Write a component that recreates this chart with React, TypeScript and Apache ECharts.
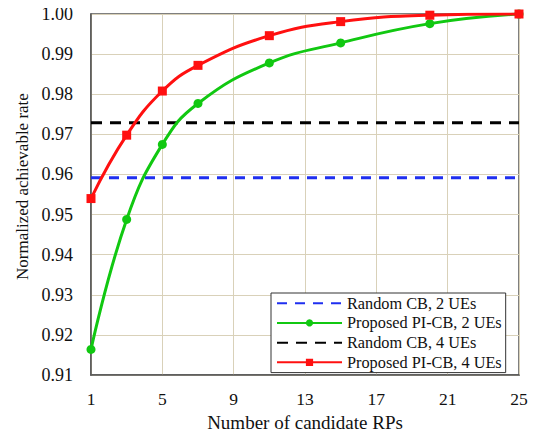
import React, { useEffect, useRef } from "react";
import * as echarts from "echarts";

// Number of candidate RPs at which the curves are sampled
const candidateRPs = [1, 3, 5, 7, 11, 15, 20, 25];
// Normalized achievable rate, proposed PI-CB
const piCb2UEs = [0.9164, 0.9488, 0.9675, 0.9777, 0.9878, 0.9928, 0.9976, 1.0];
const piCb4UEs = [0.954, 0.9698, 0.9808, 0.9872, 0.9946, 0.9981, 0.9997, 1.0];
// Random CB baselines (independent of the number of RPs)
const randomCb2UEs = 0.9592;
const randomCb4UEs = 0.9729;

const xRange = [1, 25];
const yRange = [0.91, 1.0];

const FONT = "'Liberation Serif', 'DejaVu Serif', serif";

export default function App() {
  const ref = useRef<HTMLDivElement>(null);

  useEffect(() => {
    if (!ref.current) return;
    const chart = echarts.init(ref.current, undefined, { renderer: "svg" });

    const flat = (v: number) => xRange.map((x) => [x, v]);
    const pairs = (ys: number[]) => candidateRPs.map((x, i) => [x, ys[i]]);

    chart.setOption({
      animation: false,
      textStyle: { fontFamily: FONT, color: "#111" },
      grid: {
        left: 91,
        right: 20,
        top: 14,
        bottom: 59,
        show: true,
        borderColor: "#555",
        borderWidth: 1.5,
        containLabel: false,
      },
      xAxis: {
        type: "value",
        min: xRange[0],
        max: xRange[1],
        interval: 4,
        name: "Number of candidate RPs",
        nameLocation: "middle",
        nameGap: 34,
        nameTextStyle: { fontFamily: FONT, fontSize: 19, color: "#111" },
        axisLine: { lineStyle: { color: "#555", width: 1.5 } },
        axisTick: { show: false },
        axisLabel: { fontFamily: FONT, fontSize: 17.5, color: "#111", margin: 15 },
        splitLine: { show: true, lineStyle: { color: "#d9d1b9", width: 1 } },
      },
      yAxis: {
        type: "value",
        min: yRange[0],
        max: yRange[1],
        interval: 0.01,
        name: "Normalized achievable rate",
        nameLocation: "middle",
        nameGap: 60,
        nameTextStyle: {
          fontFamily: FONT,
          fontSize: 17,
          color: "#111",
          padding: [0, 0, 0, 16],
        },
        axisLine: { show: true, lineStyle: { color: "#555", width: 1.5 } },
        axisTick: { show: false },
        axisLabel: {
          fontFamily: FONT,
          fontSize: 18,
          color: "#111",
          margin: 18,
          formatter: (v: number) => v.toFixed(2),
        },
        splitLine: { show: true, lineStyle: { color: "#d9d1b9", width: 1 } },
      },
      legend: {
        orient: "vertical",
        left: 271,
        top: 293,
        itemWidth: 65,
        itemHeight: 9,
        itemGap: 3.2,
        padding: [2, 4, 2, 5],
        backgroundColor: "#fff",
        borderColor: "#333",
        borderWidth: 1,
        borderRadius: 0,
        textStyle: { fontFamily: FONT, fontSize: 16.3, lineHeight: 16.5, color: "#111" },
        data: [
          { name: "Random CB, 2 UEs", itemStyle: { opacity: 0 } },
          { name: "Proposed PI-CB, 2 UEs" },
          { name: "Random CB, 4 UEs", itemStyle: { opacity: 0 } },
          { name: "Proposed PI-CB, 4 UEs" },
        ],
      },
      series: [
        {
          name: "Random CB, 2 UEs",
          type: "line",
          data: flat(randomCb2UEs),
          symbol: "none",
          lineStyle: { color: "#1f2ff0", width: 3, type: [10, 8] },
          itemStyle: { color: "#1f2ff0" },
          z: 3,
        },
        {
          name: "Proposed PI-CB, 2 UEs",
          type: "line",
          data: pairs(piCb2UEs),
          smooth: 0.45,
          symbol: "circle",
          symbolSize: 9,
          lineStyle: { color: "#11c811", width: 3 },
          itemStyle: { color: "#11c811" },
          z: 4,
        },
        {
          name: "Random CB, 4 UEs",
          type: "line",
          data: flat(randomCb4UEs),
          symbol: "none",
          lineStyle: { color: "#000", width: 3, type: [11, 8] },
          itemStyle: { color: "#000" },
          z: 3,
        },
        {
          name: "Proposed PI-CB, 4 UEs",
          type: "line",
          data: pairs(piCb4UEs),
          smooth: 0.45,
          symbol: "rect",
          symbolSize: 9,
          lineStyle: { color: "#ff1010", width: 3 },
          itemStyle: { color: "#ff1010" },
          z: 5,
        },
      ],
    });

    return () => chart.dispose();
  }, []);

  return <div ref={ref} style={{ width: 539, height: 437, margin: -8 }} />;
}
